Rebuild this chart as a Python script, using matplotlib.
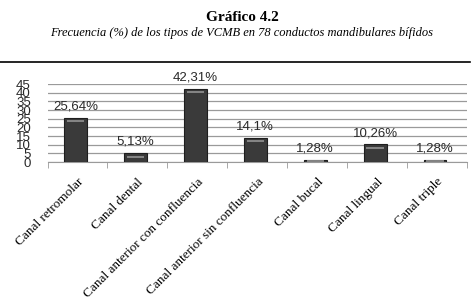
import matplotlib.pyplot as plt
from matplotlib.lines import Line2D
import numpy as np

categories = ['Canal retromolar', 'Canal dental', 'Canal anterior con confluencia',
              'Canal anterior sin confluencia', 'Canal bucal', 'Canal lingual', 'Canal triple']
values = [25.64, 5.13, 42.31, 14.1, 1.28, 10.26, 1.28]
value_labels = ['25,64%', '5,13%', '42,31%', '14,1%', '1,28%', '10,26%', '1,28%']
yticks = [0, 5, 10, 15, 20, 25, 30, 35, 40, 45]

plt.rcParams['font.family'] = ['Liberation Serif', 'DejaVu Serif']

fig = plt.figure(figsize=(4.71, 2.99), dpi=100)
ax = fig.add_axes([0.101, 0.458, 0.89, 0.261])

x = np.arange(len(categories))
bw = 0.38
ax.bar(x - 0.03, values, width=bw, color='#3a3a3a', edgecolor='#1e1e1e', linewidth=0.8, zorder=3)

# light stripe near the top of each bar (the 3D look of the original)
for xi, v in zip(x, values):
    yy = v - min(2.0, v * 0.45)
    ax.hlines(yy, xi - 0.03 - bw * 0.38, xi - 0.03 + bw * 0.38, color='#8c8c8c',
              linewidth=1.3, zorder=4)

# value labels above the bars
for xi, v, lab in zip(x, values, value_labels):
    ax.text(xi - 0.03, v + 3.0, lab, ha='center', va='bottom', fontsize=9.5,
            color='#2a2a2a', family='Liberation Sans')

ax.set_xlim(-0.5, len(categories) - 0.5)
ax.set_ylim(0, 45)
ax.set_yticks(yticks)
ax.set_yticklabels([str(t) for t in yticks], fontsize=9.5, family='Liberation Sans',
                   color='#2a2a2a')
ax.yaxis.grid(True, color='#9a9a9a', linewidth=0.9, zorder=0)
ax.tick_params(axis='y', length=0, pad=12)

ax.set_xticks(x)
ax.set_xticklabels(categories, rotation=45, ha='right', rotation_mode='anchor', fontsize=9.5)
ax.set_xticks(np.arange(len(categories) + 1) - 0.5, minor=True)
ax.tick_params(axis='x', which='major', length=0, pad=10)
ax.tick_params(axis='x', which='minor', length=4, color='#9a9a9a')

for side in ['top', 'right', 'left']:
    ax.spines[side].set_visible(False)
ax.spines['bottom'].set_color('#9a9a9a')

fig.text(0.514, 0.94, 'Gráfico 4.2', ha='center', va='center', fontsize=11, fontweight='bold')
fig.text(0.512, 0.889, 'Frecuencia (%) de los tipos de VCMB en 78 conductos mandibulares bífidos',
         ha='center', va='center', fontsize=9, style='italic')
fig.add_artist(Line2D([0.0, 0.998], [0.792, 0.792], color='black', linewidth=1.2,
                      transform=fig.transFigure))

fig.savefig('out.png', dpi=100)
